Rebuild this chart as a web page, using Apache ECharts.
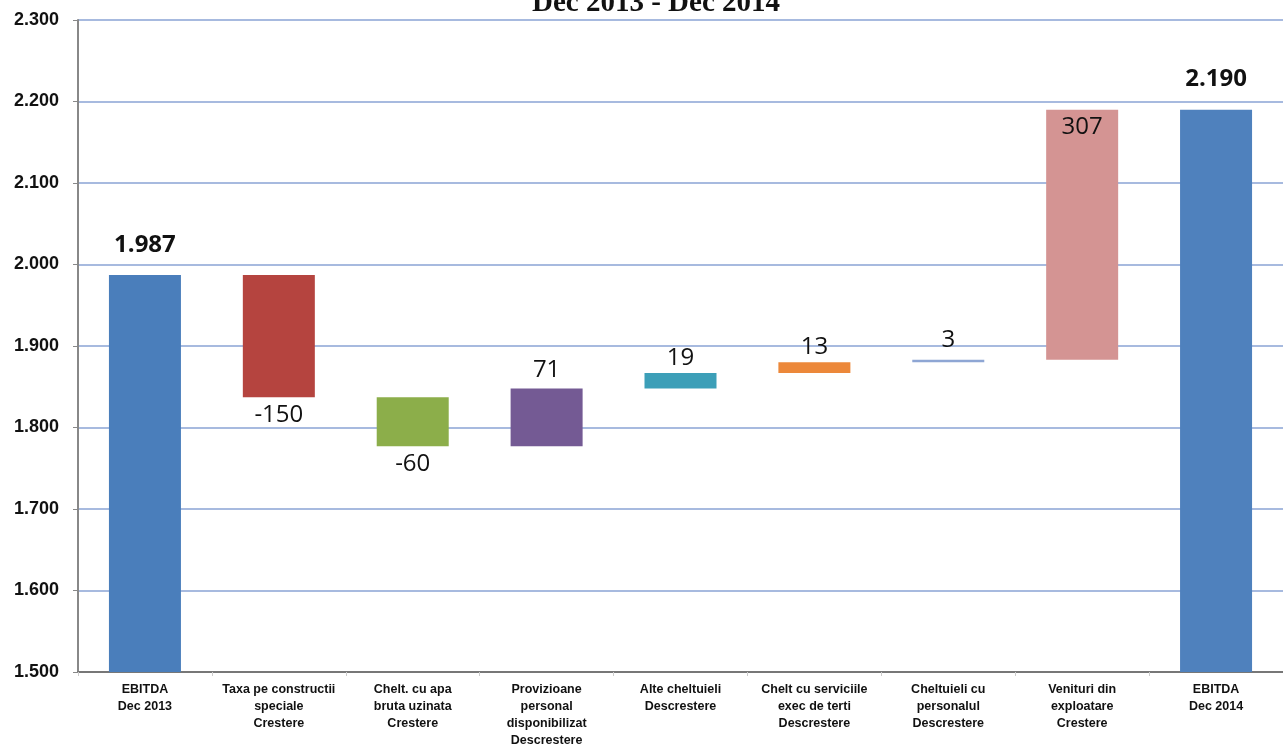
<!DOCTYPE html>
<html lang="ro">
<head>
    <meta charset="UTF-8">
    <title>EBITDA Dec 2013 - Dec 2014</title>
    <script src="https://cdn.jsdelivr.net/npm/echarts@6/dist/echarts.min.js"></script>
    <style>
        html, body { margin: 0; padding: 0; background: #fff; }
        #chart { width: 1283px; height: 747px; }
    </style>
</head>
<body>
<div id="chart"></div>
<script type="text/javascript">
    // categorii (axa X)
    var categories = [
        'EBITDA\nDec 2013',
        'Taxa pe constructii\nspeciale\nCrestere',
        'Chelt. cu apa\nbruta uzinata\nCrestere',
        'Provizioane\npersonal\ndisponibilizat\nDescrestere',
        'Alte cheltuieli\nDescrestere',
        'Chelt cu serviciile\nexec de terti\nDescrestere',
        'Cheltuieli cu\npersonalul\nDescrestere',
        'Venituri din\nexploatare\nCrestere',
        'EBITDA\nDec 2014'
    ];
    var startValue = 1987;
    var changes = [-150, -60, 71, 19, 13, 3, 307];
    var endValue = 2190;
    var barColors = ['#4a7ebb', '#b5443f', '#8cae4a', '#745a94', '#3c9fb8', '#ec883a', '#8ea6d4', '#d49493', '#4f81bd'];
    var labelPos = ['top', 'bottom', 'bottom', 'top', 'top', 'top', 'top', 'insideTop', 'top'];
    var labelDist = [18, 6, 6, 6, 3, 3, 8, 6, 18];

    function fmt(v) {
        return (v / 1000).toFixed(3);
    }

    // baza transparenta + bara vizibila
    var base = [0];
    var visible = [startValue];
    var texts = [fmt(startValue)];
    var run = startValue;
    for (var i = 0; i < changes.length; i++) {
        var next = run + changes[i];
        base.push(Math.min(run, next));
        visible.push(Math.abs(changes[i]));
        texts.push(String(changes[i]));
        run = next;
    }
    base.push(0);
    visible.push(endValue);
    texts.push(fmt(endValue));

    var visData = visible.map(function (v, k) {
        var isTotal = (k === 0 || k === visible.length - 1);
        return {
            value: v,
            itemStyle: { color: barColors[k] },
            label: {
                show: true,
                position: labelPos[k],
                formatter: texts[k],
                fontWeight: isTotal ? 'bold' : 'normal',
                distance: labelDist[k]
            }
        };
    });

    var myChart = echarts.init(document.getElementById('chart'));
    var option = {
        animation: false,
        backgroundColor: '#ffffff',
        title: {
            text: 'Dec 2013 - Dec 2014',
            left: 527,
            top: -16,
            textStyle: {
                fontFamily: 'Liberation Serif',
                fontWeight: 'bold',
                fontSize: 29,
                color: '#111'
            }
        },
        grid: {
            left: 78,
            right: 0,
            top: 20,
            bottom: 75,
            outerBoundsMode: 'none'
        },
        xAxis: {
            type: 'category',
            data: categories,
            axisLine: { lineStyle: { color: '#777', width: 2 } },
            axisTick: { show: true, length: 4, lineStyle: { color: '#ccc' } },
            axisLabel: {
                interval: 0,
                margin: 9,
                fontFamily: 'Liberation Sans',
                fontWeight: 'bold',
                fontSize: 12.5,
                lineHeight: 17,
                color: '#111'
            }
        },
        yAxis: {
            type: 'value',
            min: 1500,
            max: 2300,
            interval: 100,
            axisLine: { show: true, lineStyle: { color: '#888', width: 2 } },
            axisTick: { show: true, length: 5, lineStyle: { color: '#888' } },
            splitLine: { lineStyle: { color: '#a7badf', width: 2 } },
            axisLabel: {
                margin: 19,
                fontFamily: 'Liberation Sans',
                fontWeight: 'bold',
                fontSize: 18,
                color: '#111',
                formatter: function (v) { return fmt(v); }
            }
        },
        series: [
            {
                name: 'baza',
                type: 'bar',
                stack: 'w',
                barWidth: 72,
                itemStyle: { color: 'transparent' },
                silent: true,
                data: base
            },
            {
                name: 'EBITDA',
                type: 'bar',
                stack: 'w',
                barWidth: 72,
                label: {
                    fontFamily: 'Open Sans',
                    fontSize: 24,
                    color: '#111'
                },
                data: visData
            }
        ]
    };
    myChart.setOption(option);
</script>
</body>
</html>
